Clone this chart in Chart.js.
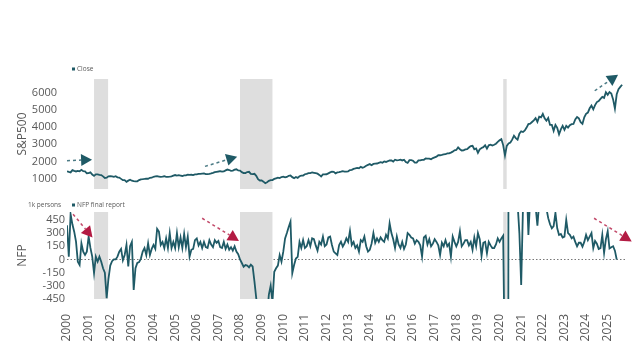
<!DOCTYPE html>
<html>
<head>
<meta charset="utf-8">
<script src="https://cdn.jsdelivr.net/npm/chart.js@4.4.1/dist/chart.umd.min.js"></script>
<style>
  html, body { margin: 0; padding: 0; background: #fff; }
  #wrap { position: relative; width: 640px; height: 351px; }
  #wrap canvas { position: absolute; left: 0; top: 0; }
</style>
</head>
<body>
<div id="wrap">
  <canvas id="spChart" width="640" height="351"></canvas>
  <canvas id="nfpChart" width="640" height="351"></canvas>
</div>
<script>
// tick labels
const years = [2000, 2001, 2002, 2003, 2004, 2005, 2006, 2007, 2008, 2009, 2010, 2011, 2012,
  2013, 2014, 2015, 2016, 2017, 2018, 2019, 2020, 2021, 2022, 2023, 2024, 2025];
const spTicks = [1000, 2000, 3000, 4000, 5000, 6000];
const nfpTicks = [-450, -300, -150, 0, 150, 300, 450];

// S&P500 level, one value per month starting Jan 2000
const spClose = [1430,
  1394, 1366, 1499, 1452, 1421, 1455, 1431, 1518, 1437, 1429, 1315, 1320,
  1366, 1240, 1160, 1249, 1256, 1224, 1211, 1134, 1041, 1060, 1139, 1148,
  1130, 1107, 1147, 1077, 1067, 990, 912, 916, 815, 886, 936, 880,
  856, 841, 848, 917, 964, 975, 990, 1008, 996, 1051, 1058, 1112,
  1131, 1145, 1126, 1107, 1121, 1141, 1102, 1104, 1115, 1130, 1174, 1212,
  1181, 1204, 1181, 1157, 1192, 1191, 1234, 1220, 1229, 1207, 1249, 1248,
  1280, 1281, 1295, 1311, 1270, 1270, 1277, 1304, 1336, 1378, 1401, 1418,
  1438, 1407, 1421, 1482, 1531, 1503, 1455, 1474, 1527, 1549, 1481, 1468,
  1379, 1331, 1323, 1386, 1400, 1280, 1267, 1283, 1165, 969, 896, 903,
  826, 735, 798, 873, 919, 919, 987, 1021, 1057, 1036, 1096, 1115,
  1074, 1104, 1169, 1187, 1089, 1031, 1102, 1049, 1141, 1183, 1181, 1258,
  1286, 1327, 1326, 1364, 1345, 1321, 1292, 1219, 1131, 1253, 1247, 1258,
  1312, 1366, 1408, 1398, 1310, 1362, 1379, 1407, 1441, 1412, 1416, 1426,
  1498, 1515, 1569, 1598, 1631, 1606, 1686, 1633, 1682, 1757, 1806, 1848,
  1783, 1859, 1872, 1884, 1924, 1960, 1931, 2003, 1972, 2018, 2068, 2059,
  1995, 2105, 2068, 2086, 2107, 2063, 2104, 1972, 1920, 2079, 2080, 2044,
  1940, 1932, 2060, 2065, 2097, 2099, 2174, 2171, 2168, 2126, 2199, 2239,
  2279, 2364, 2363, 2384, 2412, 2423, 2470, 2472, 2519, 2575, 2648, 2674,
  2824, 2714, 2641, 2648, 2705, 2718, 2816, 2902, 2914, 2712, 2760, 2507,
  2704, 2784, 2834, 2946, 2752, 2942, 2980, 2926, 2977, 3038, 3141, 3231,
  3300, 2954, 2350, 2912, 3044, 3100, 3271, 3500, 3363, 3270, 3622, 3756,
  3714, 3811, 3973, 4181, 4204, 4298, 4395, 4523, 4308, 4605, 4567, 4766,
  4516, 4374, 4530, 4132, 4132, 3785, 4130, 3955, 3586, 3872, 4080, 3840,
  4077, 3970, 4109, 4169, 4180, 4450, 4589, 4508, 4288, 4194, 4568, 4770,
  4846, 5096, 5254, 5036, 5278, 5460, 5522, 5648, 5762, 5705, 6032, 5882,
  6041, 5955, 5612, 5080, 5912, 6205, 6339, 6465];

// NFP final report, 1k persons, one value per month starting Jan 2000
const nfpReport = [
  390, 30, 515, 400, 316, 203, -25, -63, 184, 89, 51, 89,
  260, 131, 32, -154, 32, -25, 32, -25, -100, -150, -440, -220,
  -70, -20, 0, 0, 32, 89, 120, -10, 51, 165, -80, 150,
  200, -347, -100, -40, -30, 10, 89, 130, 51, 184, 51, 120,
  165, 120, 347, 316, 165, 200, 130, 240, 130, 300, 130, 200,
  130, 300, 140, 250, 130, 290, 140, 260, 32, 110, 120, 220,
  240, 160, 200, 130, 200, 140, 130, 220, 170, 140, 220, 190,
  210, 140, 130, 200, 120, 170, 110, 140, 100, 150, 90, 60,
  0, -40, -82, -63, -70, -90, -60, -80, -250, -440, -600, -750,
  -800, -700, -800, -650, -400, -300, -480, -140, -100, -70, 50, -25,
  89, 240, 300, 370, 430, -155, -63, 10, 30, 200, 130, 220,
  130, 150, 220, 150, 240, 230, 160, 100, 200, 170, 260, 150,
  170, 250, 260, 165, 89, 70, 51, 165, 203, 146, 184, 241,
  200, 325, 165, 200, 130, 160, 89, 220, 200, 260, 150, 89,
  110, 180, 300, 190, 240, 200, 250, 220, 200, 280, 240, 412,
  300, 230, 130, 260, 170, 130, 200, 120, 170, 300, 280, 250,
  240, 180, 220, 200, 160, 32, 250, 270, 170, 230, 150, 180,
  230, 200, 160, 51, 190, 150, 220, 150, 180, 30, 260, 200,
  150, 200, 320, 150, 180, 220, 220, 160, 200, 110, 250, 150,
  300, 230, 40, 190, 200, 70, 200, 160, 130, 130, 170, 240,
  200, 240, 270, -1370, -20500, 2700, 4800, 1760, 1490, 660, 640, 300,
  -290, 600, 700, 900, 279, 700, 900, 1000, 600, 385, 650, 650,
  600, 700, 580, 470, 400, 355, 380, 530, 355, 279, 290, 250,
  260, 450, 300, 280, 240, 260, 200, 150, 190, 190, 146, 200,
  279, 220, 260, 300, 130, 210, 180, 120, 130, 280, 74, 230,
  320, 125, 140, 150, 100, 0];

// recessions (grey bands), in years
const recessions = [[2001.25, 2001.9], [2008.0, 2009.5], [2020.17, 2020.33]];

// trend arrows [x0, y0, x1, y1] in data units
const spArrows = [[2000.0, 2050, 2001.16, 2105], [2006.38, 1715, 2007.87, 2280], [2024.4, 6116, 2025.48, 7047]];
const nfpArrows = [[2000.28, 515, 2001.18, 250], [2006.25, 469, 2007.95, 211], [2024.37, 469, 2026.11, 205]];

const TEAL = '#1f5a66';
const RED = '#b31b43';
const GREY = '#595959';
const FONT = 'Open Sans';
const X_MIN = 2000, X_MAX = 2025.8;

const toPoints = arr => arr.map((v, i) => ({ x: 2000 + i / 12, y: v }));

function drawArrow(ctx, x0, y0, x1, y1, color, len, half) {
  const a = Math.atan2(y1 - y0, x1 - x0);
  const bx = x1 - len * Math.cos(a), by = y1 - len * Math.sin(a);
  ctx.save();
  ctx.strokeStyle = color;
  ctx.globalAlpha = 0.8;
  ctx.lineWidth = 1.5;
  ctx.setLineDash([3, 3]);
  ctx.beginPath(); ctx.moveTo(x0, y0); ctx.lineTo(bx, by); ctx.stroke();
  ctx.globalAlpha = 1;
  ctx.setLineDash([]);
  ctx.fillStyle = color;
  ctx.beginPath();
  ctx.moveTo(x1, y1);
  ctx.lineTo(bx + half * Math.sin(a), by - half * Math.cos(a));
  ctx.lineTo(bx - half * Math.sin(a), by + half * Math.cos(a));
  ctx.closePath(); ctx.fill();
  ctx.restore();
}

// grey bands + arrows + small legend texts
const decor = {
  id: 'decor',
  beforeDatasetsDraw(chart, args, opts) {
    const { ctx, chartArea, scales: { x } } = chart;
    ctx.save();
    ctx.fillStyle = '#dedede';
    recessions.forEach(r => {
      const a = x.getPixelForValue(r[0]), b = x.getPixelForValue(r[1]);
      ctx.fillRect(a, chartArea.top, b - a, chartArea.bottom - chartArea.top);
    });
    ctx.restore();
  },
  afterDatasetsDraw(chart, args, opts) {
    const { ctx, scales: { x, y } } = chart;
    opts.arrows.forEach(r => {
      drawArrow(ctx, x.getPixelForValue(r[0]), y.getPixelForValue(r[1]),
        x.getPixelForValue(r[2]), y.getPixelForValue(r[3]), opts.arrowColor, 11, 6);
    });
  },
  afterDraw(chart, args, opts) {
    const { ctx, chartArea } = chart;
    ctx.save();
    ctx.font = '6.5px "' + FONT + '"';
    ctx.textBaseline = 'middle';
    const ly = chartArea.top - opts.legendGap;
    ctx.fillStyle = TEAL;
    ctx.fillRect(chartArea.left + 5, ly - 1.5, 3, 3);
    ctx.fillStyle = GREY;
    ctx.fillText(opts.legend, chartArea.left + 10, ly);
    if (opts.unit) ctx.fillText(opts.unit, 28, ly);
    ctx.restore();
  }
};

function yAxis(title, ticks, min, max) {
  return {
    min: min, max: max,
    afterBuildTicks: s => { s.ticks = ticks.map(v => ({ value: v })); },
    afterFit: s => { s.width = 67; },
    ticks: { color: GREY, padding: 2, autoSkip: false, font: { family: FONT, size: 11 }, callback: v => String(v) },
    title: { display: true, text: title, color: GREY, font: { family: FONT, size: 12 }, padding: { top: 15, bottom: 0 } },
    grid: { display: false },
    border: { display: false }
  };
}

new Chart(document.getElementById('spChart'), {
  type: 'line',
  data: { datasets: [{ label: 'Close', data: toPoints(spClose), borderColor: TEAL, borderWidth: 1.8, pointRadius: 0, tension: 0 }] },
  options: {
    responsive: false, animation: false,
    layout: { padding: { top: 79, bottom: 162, left: 0, right: 15 } },
    plugins: {
      legend: { display: false }, tooltip: { enabled: false },
      decor: { arrows: spArrows, arrowColor: TEAL, legend: 'Close', legendGap: 10 }
    },
    scales: {
      x: { type: 'linear', min: X_MIN, max: X_MAX, display: false },
      y: yAxis('S&P500', spTicks, 400, 6800)
    }
  },
  plugins: [decor]
});

// NFP axis: dotted zero line only
const nfpY = yAxis('NFP', nfpTicks, -450, 540);
nfpY.grid = {
  display: true,
  drawTicks: false,
  color: c => (c.tick && c.tick.value === 0 ? '#777' : 'rgba(0,0,0,0)'),
  lineWidth: 1
};
nfpY.border = { display: false, dash: [1.5, 2] };

new Chart(document.getElementById('nfpChart'), {
  type: 'line',
  data: { datasets: [{ label: 'NFP final report', data: toPoints(nfpReport), borderColor: TEAL, borderWidth: 1.8, pointRadius: 0, tension: 0 }] },
  options: {
    responsive: false, animation: false,
    layout: { padding: { top: 212, bottom: 0, left: 0, right: 15 } },
    plugins: {
      legend: { display: false }, tooltip: { enabled: false },
      decor: { arrows: nfpArrows, arrowColor: RED, legend: 'NFP final report', unit: '1k persons', legendGap: 7 }
    },
    scales: {
      x: {
        type: 'linear', min: X_MIN, max: X_MAX,
        afterBuildTicks: s => { s.ticks = years.map(v => ({ value: v })); },
        afterFit: s => { s.height = 52; },
        grid: { display: false },
        border: { display: false },
        ticks: {
          color: GREY, padding: 7, autoSkip: false, minRotation: 90, maxRotation: 90,
          font: { family: FONT, size: 12 },
          callback: v => String(v)
        }
      },
      y: nfpY
    }
  },
  plugins: [decor]
});
</script>
</body>
</html>
